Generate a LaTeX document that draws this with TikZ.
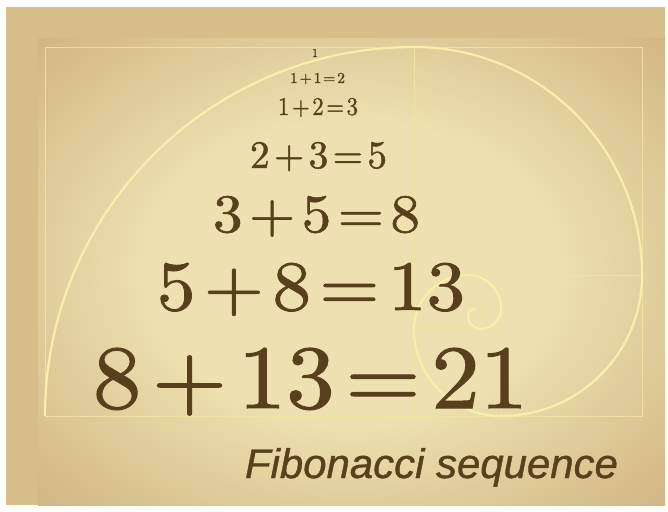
\documentclass[tikz,border=0pt]{standalone}
\usepackage{fontspec}
\usepackage{graphicx}
\newfontfamily\titlefont[ItalicFeatures={FakeBold=0.9}]{Liberation Sans}
\newfontfamily\fibfont[FakeBold=1.2]{Latin Modern Roman}
\definecolor{txt}{RGB}{88,64,28}
\definecolor{pbase}{RGB}{208,182,126}
\definecolor{pband}{RGB}{214,190,138}
\definecolor{glowA}{RGB}{238,224,176}
\definecolor{glowB}{RGB}{196,164,112}
\definecolor{glowC}{RGB}{146,114,70}
\definecolor{lineY}{RGB}{242,228,165}
\definecolor{spiralY}{RGB}{250,238,172}
\pgfdeclareradialshading{papyrusglow}{\pgfpoint{0bp}{0bp}}{color(0bp)=(glowA); color(16bp)=(glowA); color(44bp)=(glowB); color(72bp)=(glowC)}
\newcommand{\fplus}{\kern0.11em+\kern0.11em}
\newcommand{\fequal}{\kern0.11em=\kern0.11em}
\newcommand{\fibeq}[1]{{\fibfont #1}}
\begin{document}
\begin{tikzpicture}[x=1pt,y=1pt,
  eq/.style={inner sep=0pt, text=txt, anchor=base},
  rectline/.style={draw=lineY, line width=0.9pt, opacity=0.85},
  spiralline/.style={draw=spiralY, line width=2.2pt}]
\useasboundingbox (0,0) rectangle (668,511);
% background
\fill[white] (0,0) rectangle (668,511);
\fill[pbase] (6,6) rectangle (665,504);
\shade[shading=papyrusglow] (38,6) rectangle (665,473);
\fill[pband] (6,473) rectangle (665,504);
\fill[pband] (6,6) rectangle (38,504);
% golden rectangles
\draw[rectline] (45,95) rectangle (642.05,464);
\draw[rectline] (414,95) -- (414,464);
\draw[rectline] (414,235.95) -- (642.05,235.95);
\draw[rectline] (501.1,95) -- (501.1,235.95);
\draw[rectline] (414,182.1) -- (501.1,182.1);
\draw[rectline] (467.85,182.1) -- (467.85,235.95);
\draw[rectline] (467.85,202.7) -- (501.1,202.7);
\draw[rectline] (480.5,182.1) -- (480.5,202.7);
\draw[rectline] (467.85,194.75) -- (480.5,194.75);
\draw[rectline] (475.8,194.75) -- (475.8,202.7);
% spiral
\draw[spiralline] (45,95)
  arc[start angle=180, end angle=90, radius=369]
  arc[start angle=90, end angle=0, radius=228.05]
  arc[start angle=0, end angle=-90, radius=140.95]
  arc[start angle=-90, end angle=-180, radius=87.1]
  arc[start angle=180, end angle=90, radius=53.85]
  arc[start angle=90, end angle=0, radius=33.25]
  arc[start angle=0, end angle=-90, radius=20.6]
  arc[start angle=-90, end angle=-180, radius=12.65]
  arc[start angle=180, end angle=90, radius=7.95];
% equations
\node[eq] (e0) at (315,454) {\resizebox{!}{8pt}{\fibeq{1}}};
\node[eq] (e1) at (317.5,428) {\resizebox{55pt}{10pt}{\fibeq{1\fplus1\fequal2}}};
\node[eq] (e2) at (318,396) {\resizebox{80pt}{17pt}{\fibeq{1\fplus2\fequal3}}};
\node[eq] (e3) at (318.5,343) {\resizebox{137pt}{26pt}{\fibeq{2\fplus3\fequal5}}};
\node[eq] (e4) at (316.5,279) {\resizebox{207pt}{36pt}{\fibeq{3\fplus5\fequal8}}};
\node[eq] (e5) at (311,201) {\resizebox{308pt}{47pt}{\fibeq{5\fplus8\fequal13}}};
\node[eq] (e6) at (310.5,103) {\resizebox{435pt}{60pt}{\fibeq{8\fplus13\fequal21}}};
\node[eq] (title) at (431.5,33) {\resizebox{373pt}{30pt}{\titlefont\itshape Fibonacci sequence}};
\end{tikzpicture}
\end{document}
